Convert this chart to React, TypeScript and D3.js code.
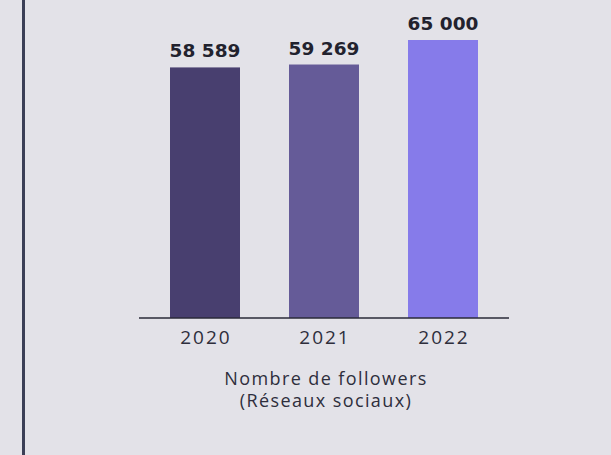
import React from "react";
import * as d3 from "d3";

const categories = ["2020", "2021", "2022"];
const values = [58589, 59269, 65000];
const valueLabels = ["58 589", "59 269", "65 000"];
const colors = ["#483f6f", "#655b98", "#867bea"];
const captionLines = ["Nombre de followers", "(Réseaux sociaux)"];

export default function App() {
  const W = 611, H = 455;
  const baseline = 318;
  const x = d3.scaleBand().domain(categories).range([121, 527]).paddingInner(0.41176).paddingOuter(0.41176);
  const y = d3.scaleLinear().domain([0, 65000]).range([baseline, 40]);
  return (
    <div style={{ position: "fixed", left: 0, top: 0 }}>
      <svg width={W} height={H} style={{ display: "block" }}>
        <rect x={0} y={0} width={W} height={H} fill="#e3e2e8" />
        <rect x={22} y={0} width={3} height={H} fill="#3b3f56" />
        {categories.map((c, i) => (
          <g key={c}>
            <rect x={x(c)} y={y(values[i])} width={x.bandwidth()} height={baseline - y(values[i])} fill={colors[i]} />
            <text x={(x(c) as number) + x.bandwidth() / 2} y={y(values[i]) - 10} textAnchor="middle"
              fontFamily="'DejaVu Sans', sans-serif" fontWeight={700} fontSize={18.5} fill="#22222e">{valueLabels[i]}</text>
            <text x={(x(c) as number) + x.bandwidth() / 2 + 1} y={344} textAnchor="middle" letterSpacing={2}
              fontFamily="'Open Sans', sans-serif" fontWeight={400} fontSize={19} fill="#2e2e3c">{c}</text>
          </g>
        ))}
        <line x1={139} x2={509} y1={318} y2={318} stroke="#2a2a38" strokeWidth={1.6} />
        {captionLines.map((t, i) => (
          <text key={t} x={326} y={385 + i * 22} textAnchor="middle" letterSpacing={1.4}
            fontFamily="'Open Sans', sans-serif" fontSize={18} fill="#2e2e3c">{t}</text>
        ))}
      </svg>
    </div>
  );
}
